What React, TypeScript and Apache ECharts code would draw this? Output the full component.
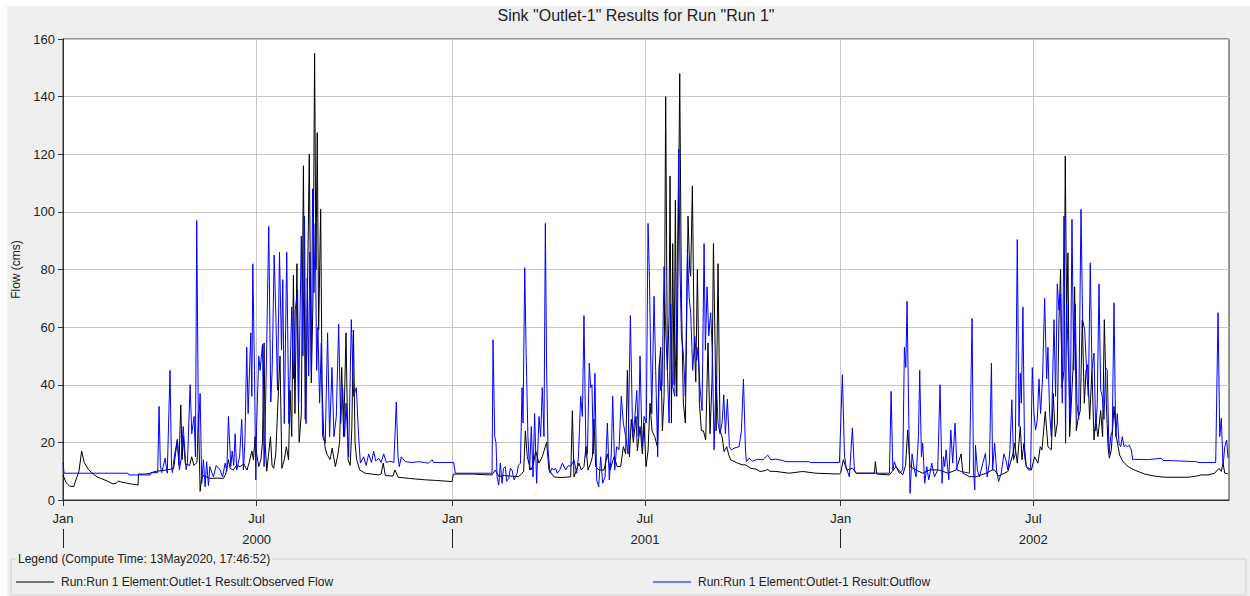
import React, { useEffect, useRef } from "react";
import * as echarts from "echarts";

const TITLE = 'Sink "Outlet-1" Results for Run "Run 1"';
const Y_NAME = "Flow (cms)";
const LEGEND_TITLE = "Legend (Compute Time: 13May2020, 17:46:52)";
const OBS_NAME = "Run:Run 1 Element:Outlet-1 Result:Observed Flow";
const OUT_NAME = "Run:Run 1 Element:Outlet-1 Result:Outflow";

// x values are days since 01Jan2000
const DAY_MAX = 1096;
const monthTickDays = [0, 182, 366, 547, 731, 912];
const monthTickLabels = ["Jan", "Jul", "Jan", "Jul", "Jan", "Jul"];
const yearSeparatorDays = [0, 366, 731];
const yearLabelDays = [182, 547, 912];
const yearLabels = ["2000", "2001", "2002"];
const yTicks = [0, 20, 40, 60, 80, 100, 120, 140, 160];

// [day, flow in cms]
const observedFlow: [number, number][] = [
  [0, 8.7], [3, 6], [6, 4.9], [10, 4.6], [15, 10], [17.5, 17], [20, 13], [24, 10.5], [27, 9.5], [32, 8],
  [37.6, 7.2], [42, 6.5], [47, 5.6], [50, 5.8], [52, 6.6], [55, 6.2], [59.5, 5.9], [65, 5.5], [70.5, 5.2], [71, 9],
  [78, 9], [81, 9.2], [84, 9.6], [88, 10], [95, 10.3], [100, 10.6], [104, 11], [107.5, 21], [109, 12], [110.7, 33],
  [112, 14], [113, 22], [115, 12.5], [119, 12], [121, 15], [123, 12], [126, 13], [127.3, 30], [128.9, 3], [130, 7],
  [132, 8.5], [138, 7.5], [145, 7.6], [150.8, 7.5], [153, 9], [155.5, 14], [157, 11], [160, 10.4], [163, 12], [166.5, 11.6],
  [170, 12.5], [173, 10.4], [175, 13], [177.5, 17], [179, 14], [180.6, 22], [182, 16], [184, 11.6], [186, 14], [187.5, 20],
  [189, 54.5], [190, 20], [191.5, 10], [193, 15], [195, 22], [196.5, 12], [198, 11], [200, 16], [202.5, 38], [204, 50],
  [205.7, 11], [208, 14], [210, 18.5], [212, 14], [213.5, 38], [215, 22], [216.6, 78], [218, 30], [219.9, 82], [221, 40],
  [222, 20], [224, 30], [226, 116], [227.7, 28], [229, 50], [231.5, 120], [233.4, 40.6], [235, 70], [236.5, 155], [237.8, 80],
  [239, 127.5], [240.3, 59], [242.2, 101], [243.5, 40], [245, 23], [246.5, 18], [248, 16], [251, 14], [253, 18], [256, 11.6],
  [258, 15], [260, 20], [262, 46], [263.8, 22], [266, 58], [268, 14], [270, 12], [271.5, 25], [273, 59], [274.5, 20],
  [276, 14], [279, 10.4], [284, 9.3], [290, 9], [296.7, 8.7], [299, 9], [301, 12.8], [303, 8.5], [310, 8.3], [312, 10.4],
  [315, 7.9], [325, 7.5], [340.6, 7], [350, 6.8], [365.7, 6.4], [367, 9], [375, 9], [385, 9], [395, 8.8], [403.3, 8.7],
  [406.4, 10.4], [409.6, 8.2], [415, 8.5], [420, 8.3], [428, 8.1], [431, 9], [433, 10], [434.6, 24], [436.4, 15], [439.6, 10.4],
  [442, 12], [444.3, 17], [447.4, 12.8], [450.5, 15], [454.6, 20], [456.8, 10.4], [461.5, 8], [467.8, 7.8], [477.2, 8], [478.8, 31],
  [480.3, 8], [485, 12.8], [487.2, 10.4], [489.7, 11.6], [491.6, 18.5], [493.5, 10.4], [496, 12.8], [497.6, 15], [499.1, 28], [500.7, 11.6],
  [503.8, 10.4], [508.5, 10.4], [511.7, 16], [514.2, 10.4], [518, 15], [521, 11.6], [524.2, 11.6], [526.7, 18.5], [528.9, 16], [530.5, 45],
  [532.4, 15], [534.2, 28], [536.1, 20], [538.6, 29], [539.9, 17], [542.4, 25.5], [544.6, 16], [546.2, 26.7], [548, 11.6], [549.9, 17],
  [551.8, 33.6], [553.7, 24], [556.2, 22], [558.7, 18.5], [560.3, 46], [561.8, 53], [563.4, 24], [565, 36], [566.5, 140], [568.1, 45],
  [569.7, 64], [570.6, 112.5], [571.9, 26.7], [573.1, 89], [574.4, 40], [575.6, 104], [576.9, 36], [578.1, 80], [579.7, 148], [581.3, 70],
  [583.1, 33.6], [585, 26.7], [587.5, 98.5], [589.1, 80], [590, 77.7], [591.6, 109], [593.2, 56.8], [594.8, 41], [596.3, 80], [598.2, 33.6],
  [600.1, 24], [602, 24], [604.1, 20.8], [606.3, 54.5], [608.2, 23], [610.1, 42], [611.4, 89], [613, 52], [613.9, 24], [615.7, 82],
  [617.6, 24], [619.5, 22], [621.4, 16.8], [623.9, 18.5], [625.8, 15.6], [627.7, 13.9], [634, 12.8], [638.6, 12.2], [641.8, 12.2], [646.5, 11],
  [651.4, 10.7], [655.2, 9.9], [660, 10.2], [662.4, 10.7], [664, 10], [670.2, 9.9], [682.7, 9.3], [695.3, 9.9], [707.8, 9.3], [729.8, 9],
  [731, 9.5], [733.5, 14], [736.7, 10.4], [742.3, 11], [745.4, 9.3], [762.7, 9.3], [763.6, 13.3], [764.9, 9], [776.8, 8.7], [783, 11.6],
  [789.3, 8.7], [792, 12], [794, 24.3], [796.2, 11.6], [801.9, 10.4], [808.1, 9.3], [815, 10.5], [823.8, 10.4], [831.6, 9.3], [839.5, 10.4],
  [844.2, 16], [845.8, 9.3], [852, 8.1], [858.3, 8.1], [867.7, 9.3], [873.3, 10.4], [875.7, 10.4], [879.4, 8.3], [888.2, 9.9], [892.9, 16],
  [894.5, 19.7], [897, 12.8], [899.8, 25.5], [901.4, 14], [903.3, 19.7], [905.5, 11.6], [910.2, 10.4], [913.3, 15], [916.4, 12.8], [918.6, 18.5],
  [920.2, 17.4], [923.3, 30.7], [925.8, 18.5], [929, 17.4], [930.8, 37], [932.7, 22], [934.6, 26.7], [936.2, 62.6], [937.7, 80], [939, 39],
  [940.9, 45], [942.1, 119.4], [943.4, 62.6], [944.6, 85.8], [946.2, 22], [947.8, 33.6], [949.3, 45], [950.9, 74], [952.5, 24], [954, 28],
  [956.2, 31], [958.1, 62.6], [960, 33.6], [961.6, 45], [963.1, 47], [965, 28], [967.2, 45], [969.1, 20.8], [970.7, 28], [972.8, 22],
  [975.4, 31], [977.2, 22], [978.8, 62.6], [980.7, 33.6], [982.3, 18.5], [983.5, 14.5], [985.4, 17.4], [987.9, 32.5], [990.1, 22], [993.2, 15.6],
  [996.4, 13.3], [1001.1, 11.6], [1007.3, 10.4], [1016.7, 9], [1026.1, 8.3], [1035.5, 7.9], [1057.5, 7.9], [1065.3, 8.3], [1070, 8.7], [1076.3, 8.7],
  [1082.5, 9.3], [1085.1, 10.4], [1086.7, 11], [1088.8, 9.9], [1090.4, 12.8], [1092, 9.3], [1095, 9.1],
];

const outflow: [number, number][] = [
  [0, 13], [1, 9.3], [30, 9.3], [61, 9.3], [62, 8.7], [82, 8.7], [83, 9.5], [89, 9.5], [90.3, 32.5], [91.5, 12],
  [92.8, 9.5], [96, 14.5], [98, 9.3], [100.6, 45], [102, 12], [102.8, 9.5], [105, 16], [107.5, 21], [109.4, 10.5], [111, 14],
  [113, 25.5], [115.7, 10.5], [117, 13], [119.5, 40], [121, 23], [123.2, 29], [124.5, 15], [125.7, 97], [127.3, 24], [128.9, 37],
  [130.4, 5.8], [132, 14], [133.6, 4.6], [135, 13.3], [136.7, 5], [138, 11.6], [141.4, 8], [144, 12], [147.7, 10.4], [150, 8],
  [152.4, 12.8], [154, 10], [155.5, 29], [157.7, 11.6], [159, 17], [160.5, 12], [161.8, 23], [163.3, 10.4], [166, 15], [168, 28],
  [169.6, 10.4], [171, 20], [172.7, 53], [174, 30], [176.5, 58], [177.5, 36], [178.4, 82], [180, 45], [181.2, 7], [182, 25.5],
  [184, 50], [185.3, 45], [187.5, 54], [189, 11.6], [190, 25], [191.5, 54], [193.4, 95], [195.3, 34], [196.6, 45], [198.5, 85],
  [200.3, 61], [201.6, 38], [203.5, 86], [205.4, 52], [206.6, 76.5], [208, 26.5], [210.3, 86], [212.3, 26.5], [215, 67], [216.8, 42],
  [218.3, 66], [220.5, 73], [221.5, 33.6], [224, 91.6], [225.5, 50], [227, 98.5], [228.4, 26.5], [229.6, 77], [230.9, 43], [232, 86],
  [233.4, 45], [234.6, 108], [235.9, 72], [237.1, 96], [238.4, 45], [239.6, 60], [241.2, 33.6], [242.8, 54.5], [244, 22], [246.5, 19.7],
  [248.7, 58], [250.6, 22], [252.8, 46], [254.7, 22], [256.9, 29], [259.1, 61], [261, 26.5], [262.8, 39], [264.7, 22], [266, 33.6],
  [268.5, 15], [271, 62.6], [273.2, 36], [275.7, 39], [277.9, 22], [279.5, 12.8], [282.6, 15], [285, 12], [287.3, 16], [290, 13],
  [292, 17], [294, 13.5], [296.7, 14.5], [299, 13], [301.4, 16], [304, 13], [306.1, 13.3], [309.2, 13.3], [311, 13], [313.3, 34],
  [314.9, 15], [316.1, 11.6], [318, 15], [321.8, 13.3], [328, 13], [334.3, 13.3], [340, 13], [343.7, 12.8], [346.9, 14], [348.4, 13],
  [367.2, 13], [368.8, 9.3], [403.3, 9.3], [404.2, 55.6], [405.8, 22], [407, 20], [408, 8], [409.6, 5.2], [411.1, 12.8], [412.7, 5.8],
  [414, 11], [415.8, 11.6], [417, 6.5], [419, 7.5], [420.5, 11], [422.1, 10.4], [424, 7], [426.8, 9.3], [428, 12], [430, 12.8],
  [431.5, 39], [432.4, 26.7], [434, 80.6], [435.2, 54], [437, 22], [438.6, 10.4], [440.2, 25.5], [441.8, 8], [443.3, 30], [445.2, 5.8],
  [447.4, 29], [449, 22], [450.5, 39], [452.1, 22], [453.4, 96], [454.6, 45], [455.9, 17.4], [457.8, 9.3], [459.5, 11], [461.5, 10.4],
  [463, 11], [464.7, 9.3], [467, 10.5], [469.4, 12.8], [472.5, 10.4], [475, 12], [477.2, 11.6], [480.3, 14], [482.8, 9.3], [484.5, 15],
  [486.6, 36], [488.2, 29], [489.7, 64], [491.6, 15], [492.9, 16], [494.7, 47.5], [496, 39], [497.2, 40], [498.5, 16], [500, 44],
  [501.6, 7], [503.5, 4.6], [505.4, 15], [507.3, 5.8], [509.5, 8], [511.7, 26.7], [513.5, 7], [515.4, 16], [516.7, 36], [518.6, 10.4],
  [520.4, 18.5], [522.6, 17.4], [524.8, 36], [526.7, 26.7], [528.9, 22], [531.1, 16], [533.3, 64], [535.5, 22], [537.4, 28], [539.3, 38],
  [540.8, 22], [542.4, 50], [544.3, 18.5], [546.2, 29], [548.3, 26.7], [549.9, 96], [551.2, 77.7], [552.4, 50], [553.4, 30], [555.6, 70.7],
  [557.1, 45], [559, 15], [560.6, 47.5], [561.8, 38], [563.1, 40], [565, 81], [566.5, 59], [568.1, 45], [569.7, 26.7], [571.2, 68],
  [572.8, 40], [575, 36], [576.9, 65], [578.8, 121.7], [580, 80], [581.3, 56.8], [583.1, 51], [585, 36], [586.9, 87], [588.5, 70.7],
  [590, 65], [591.9, 45], [593.8, 56.8], [595.7, 48.5], [596.9, 53], [598.8, 39], [600.7, 31], [602.6, 89], [603.8, 52], [605.4, 74],
  [607, 57], [608.8, 65], [610.4, 51], [612, 17.4], [613.9, 43], [615.7, 26.7], [617.6, 23], [619.5, 26.7], [621.1, 36.5], [622.6, 23],
  [624.5, 35], [626.4, 18.5], [628.3, 17.4], [630.8, 18], [635.5, 18.5], [637.7, 24], [639.6, 42], [641.5, 17.4], [642.4, 13.3], [644.9, 14.5],
  [648, 13.5], [652.7, 14.1], [658, 14], [662.4, 15.6], [665.5, 13.9], [670, 14.2], [676.5, 13.7], [679.6, 13.3], [701.6, 13.3], [702.2, 13],
  [729.8, 13], [732.6, 43.5], [734.5, 16], [736, 11.6], [739.2, 8], [742, 25], [743.9, 10.4], [745.4, 9.3], [776.8, 9.3], [778.4, 37.7],
  [780, 10.4], [781.5, 13.3], [783, 11.6], [786.2, 9.3], [789.3, 10.4], [790.9, 53], [792.2, 46], [793.4, 69], [795, 28], [796.2, 2.3],
  [798.1, 16], [800.3, 10.4], [801.9, 8], [804.1, 22], [805.3, 45], [806.9, 15], [808.1, 19.7], [810, 5.8], [811.9, 11.6], [813.8, 7],
  [816.6, 12.8], [819.1, 8], [822.2, 10.4], [824.4, 40], [826.3, 5.8], [827.6, 15], [828.8, 11.6], [830.1, 17.4], [832.6, 7], [834.5, 24.3],
  [836.3, 12.8], [838.5, 26.7], [840.4, 10.4], [844.2, 9.9], [852, 9.3], [854.5, 63], [855.8, 10.4], [857, 3.5], [857.7, 19], [859.5, 10.4],
  [861.4, 8], [864.6, 12.8], [867.1, 16.2], [868.7, 8], [870.8, 12.8], [872.7, 47.5], [873.8, 10.4], [875.7, 19.7], [877.5, 10.4], [879.4, 6.4],
  [881.9, 9.3], [884.4, 16], [886.3, 13.9], [888.2, 10.4], [890.1, 17.4], [891.9, 34.8], [893.5, 13.9], [895.1, 16], [897, 90.4], [898.6, 25.5],
  [899.8, 44], [900.8, 33.6], [902.3, 67], [903.9, 15], [905.5, 11.6], [907.6, 10.4], [909.5, 10.4], [911.1, 46], [912.7, 30], [914.2, 24.3],
  [915.8, 27.8], [917.4, 42], [918.9, 30], [920.8, 43], [922.7, 70], [924.6, 42], [925.8, 53], [927.4, 30], [929, 22], [931.5, 62.6],
  [933, 36], [934.6, 75], [936.2, 66], [937.7, 71.5], [939.3, 33.6], [940.9, 98.5], [942.4, 19.7], [943.4, 68], [945.3, 45], [946.8, 28],
  [948.4, 97.4], [950, 45], [951.5, 68], [953.1, 33.6], [954.7, 28], [956.9, 100.9], [958.4, 62.6], [960.3, 59], [962.2, 45], [963.8, 36],
  [965.6, 82.3], [967.2, 45], [969.1, 51], [970.7, 24], [972.2, 33.6], [973.8, 75], [975.4, 38], [976.9, 36], [978.5, 28], [980, 46],
  [981.6, 45], [983.2, 16], [984.8, 22], [986.3, 24], [987.9, 68.4], [989.5, 22], [991, 30], [992.6, 19.7], [994.2, 18.5], [995.7, 22],
  [997.3, 18.5], [998.9, 19], [1000.4, 18.5], [1002.3, 19], [1004.2, 17.4], [1005.5, 14], [1007.3, 14.1], [1020, 14], [1032.4, 14.5], [1034, 13.7],
  [1038.7, 13.7], [1065.3, 13.3], [1066.9, 13], [1083.5, 13], [1085.7, 65], [1087.3, 22], [1088.8, 28.4], [1090.4, 11.6], [1092, 18.5], [1093.8, 20.8],
  [1095.1, 14.5],
];

const FONT = "'Liberation Sans', Arial, sans-serif";
const TEXT = "#222";
const GRIDLINE = "#c6c6c6";
const PANEL = "#efefef";

function lookup(keys: number[], labels: string[], v: number): string {
  for (let i = 0; i < keys.length; i++) {
    if (Math.abs(keys[i] - v) < 0.5) return labels[i];
  }
  return "";
}

export default function App() {
  const ref = useRef<HTMLDivElement>(null);

  useEffect(() => {
    if (!ref.current) return;
    const chart = echarts.init(ref.current, undefined, { renderer: "svg" });
    chart.setOption({
      animation: false,
      backgroundColor: PANEL,
      title: {
        text: TITLE,
        left: 629,
        top: 1,
        textAlign: "center",
        padding: 0,
        textStyle: { fontFamily: FONT, fontSize: 16, fontWeight: "normal", color: TEXT },
      },
      grid: {
        left: 56,
        top: 33,
        width: 1166,
        height: 461,
        show: true,
        backgroundColor: "#ffffff",
        borderColor: "#333",
        borderWidth: 1,
        containLabel: false,
        outerBoundsMode: "none",
      },
      legend: [
        {
          data: [OBS_NAME],
          left: 9,
          top: 570,
          padding: 0,
          icon: "rect",
          itemWidth: 38,
          itemHeight: 1,
          selectedMode: false,
          textStyle: { fontFamily: FONT, fontSize: 12, color: TEXT, padding: [0, 0, 0, 2] },
        },
        {
          data: [OUT_NAME],
          left: 646,
          top: 570,
          padding: 0,
          icon: "rect",
          itemWidth: 38,
          itemHeight: 1,
          selectedMode: false,
          textStyle: { fontFamily: FONT, fontSize: 12, color: TEXT, padding: [0, 0, 0, 2] },
        },
      ],
      xAxis: [
        {
          type: "value",
          min: 0,
          max: DAY_MAX,
          position: "bottom",
          axisLine: { show: true, lineStyle: { color: "#333", width: 1 } },
          axisTick: { show: true, customValues: monthTickDays, length: 6, lineStyle: { color: "#333" } },
          axisLabel: {
            customValues: monthTickDays,
            formatter: (v: number) => lookup(monthTickDays, monthTickLabels, v),
            margin: 12,
            fontFamily: FONT,
            fontSize: 13,
            color: TEXT,
          },
          splitLine: { show: true, lineStyle: { color: GRIDLINE, width: 1 } },
        },
        {
          type: "value",
          min: 0,
          max: DAY_MAX,
          position: "bottom",
          offset: 29,
          axisLine: { show: false },
          axisTick: { show: true, customValues: yearSeparatorDays, length: 19, lineStyle: { color: "#222" } },
          axisLabel: {
            customValues: yearLabelDays,
            formatter: (v: number) => lookup(yearLabelDays, yearLabels, v),
            margin: 4,
            fontFamily: FONT,
            fontSize: 13,
            color: TEXT,
          },
          splitLine: { show: false },
        },
      ],
      yAxis: {
        type: "value",
        min: yTicks[0],
        max: yTicks[yTicks.length - 1],
        interval: 20,
        name: Y_NAME,
        nameLocation: "middle",
        nameGap: 38,
        nameTextStyle: { fontFamily: FONT, fontSize: 12, color: TEXT },
        axisLine: { show: true, lineStyle: { color: "#333" } },
        axisTick: { show: true, length: 5, lineStyle: { color: "#333" } },
        axisLabel: { margin: 8, fontFamily: FONT, fontSize: 13, color: TEXT },
        splitLine: { show: true, lineStyle: { color: GRIDLINE, width: 1 } },
      },
      graphic: [
        {
          type: "rect",
          silent: true,
          shape: { x: 4, y: 553, width: 1235, height: 36 },
          style: { fill: "none", stroke: "#d2d2d2", lineWidth: 1 },
        },
        {
          type: "text",
          silent: true,
          x: 9,
          y: 553,
          style: {
            text: LEGEND_TITLE,
            fontFamily: FONT,
            fontSize: 12,
            fill: TEXT,
            verticalAlign: "middle",
            backgroundColor: PANEL,
            padding: [0, 2],
          },
        },
      ],
      series: [
        {
          name: OBS_NAME,
          type: "line",
          xAxisIndex: 0,
          data: observedFlow,
          symbol: "none",
          showSymbol: false,
          color: "#000000",
          itemStyle: { color: "#000000" },
          lineStyle: { color: "#000000", width: 1 },
          clip: true,
        },
        {
          name: OUT_NAME,
          type: "line",
          xAxisIndex: 0,
          data: outflow,
          symbol: "none",
          showSymbol: false,
          color: "#0000ff",
          itemStyle: { color: "#0000ff" },
          lineStyle: { color: "#0000ff", width: 1 },
          clip: true,
        },
      ],
    });
    return () => chart.dispose();
  }, []);

  return (
    <div
      ref={ref}
      style={{ position: "absolute", left: 7, top: 6, width: 1243, height: 590 }}
    />
  );
}
